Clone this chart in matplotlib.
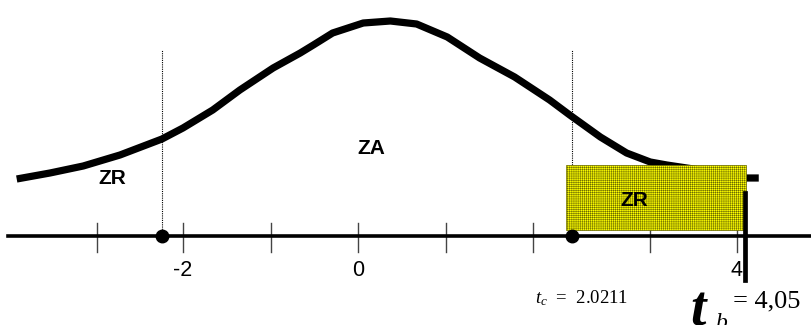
import matplotlib
matplotlib.use("Agg")
import matplotlib.pyplot as plt
from matplotlib.patches import Rectangle

# curve (hand-drawn bell shape), x in t units, y in arbitrary height units
curve_x = [-3.90, -3.52, -3.14, -2.72, -2.24, -2.00, -1.66, -1.35, -0.97, -0.66,
           -0.51, -0.29, 0.06, 0.37, 0.67, 1.02, 1.39, 1.79, 2.19, 2.42,
           2.77, 3.07, 3.34, 3.53, 3.91, 4.42, 4.58]
curve_y = [0.57, 0.63, 0.70, 0.81, 0.97, 1.08, 1.26, 1.46, 1.68, 1.83,
           1.91, 2.03, 2.13, 2.15, 2.12, 1.99, 1.78, 1.59, 1.36, 1.21,
           0.99, 0.83, 0.74, 0.71, 0.66, 0.58, 0.58]

tick_pos = [-2.98, -2.0, -0.99, 0.0, 1.01, 2.0, 3.34, 4.33]
tick_labels = {-2.0: "-2", 0.0: "0", 4.33: "4"}

t_crit_left = -2.24
t_crit_right = 2.45
t_obs = 4.42
region_x = [2.377, 4.434]
region_y = [0.06, 0.71]

plt.rcParams['hatch.linewidth'] = 0.35
plt.rcParams['mathtext.fontset'] = 'custom'
plt.rcParams['mathtext.it'] = 'Liberation Serif:italic'
plt.rcParams['mathtext.rm'] = 'Liberation Serif'

fig = plt.figure(figsize=(8.11, 3.25), dpi=100)
ax = fig.add_axes([0, 0, 1, 1])
ax.set_xlim(-4.091, 5.177)
ax.set_ylim(-0.89, 2.36)
ax.axis('off')

# axis line
ax.plot([-4.0, 5.177], [0, 0], color='black', lw=2.6, zorder=3)
for t in tick_pos:
    ax.plot([t, t], [0.13, -0.16], color='#444444', lw=1.0, zorder=2)
for t, lab in tick_labels.items():
    ax.text(t, -0.34, lab, ha='center', va='center', fontsize=15.5,
            family='Liberation Sans')

# curve
ax.plot(curve_x, curve_y, color='black', lw=5.2, solid_capstyle='butt',
        solid_joinstyle='round', zorder=4)

# critical dotted lines + dots
for tc in (t_crit_left, t_crit_right):
    ax.plot([tc, tc], [0, 1.86], color='black', lw=0.8, ls=(0, (1, 1)), zorder=2)
    ax.plot([tc], [0], 'o', color='black', ms=9, zorder=6)

# rejection box
rect = Rectangle((region_x[0], region_y[0]), region_x[1] - region_x[0],
                 region_y[1] - region_y[0], facecolor='#ffff00',
                 edgecolor='#6a6a00', hatch='++++++++', lw=0.5, zorder=5)
ax.add_patch(rect)

# observed t line
ax.plot([t_obs, t_obs], [0.43, -0.44], color='black', lw=3.4, zorder=7)

# labels
ax.text(-2.81, 0.58, "ZR", ha='center', va='center', fontsize=15,
        fontweight='bold', family='Liberation Sans', zorder=8)
ax.text(0.15, 0.88, "ZA", ha='center', va='center', fontsize=15,
        fontweight='bold', family='Liberation Sans', zorder=8)
ax.text(3.16, 0.35, "ZR", ha='center', va='center', fontsize=15,
        fontweight='bold', family='Liberation Sans', zorder=8)

ax.text(2.02, -0.67, r"$t_{c}$  =  2.0211", ha='left', va='baseline', fontsize=13.5,
        family='Liberation Serif', zorder=8)
ax.text(3.80, -0.90, "t", ha='left', va='baseline', fontsize=40,
        family='Liberation Serif', fontweight='bold', style='italic', zorder=8)
ax.text(4.08, -0.93, "b", ha='left', va='baseline', fontsize=17,
        family='Liberation Serif', style='italic', zorder=8)
ax.text(4.29, -0.71, "= 4,05", ha='left', va='baseline', fontsize=19,
        family='Liberation Serif', zorder=8)

fig.savefig("out.png", dpi=100)
